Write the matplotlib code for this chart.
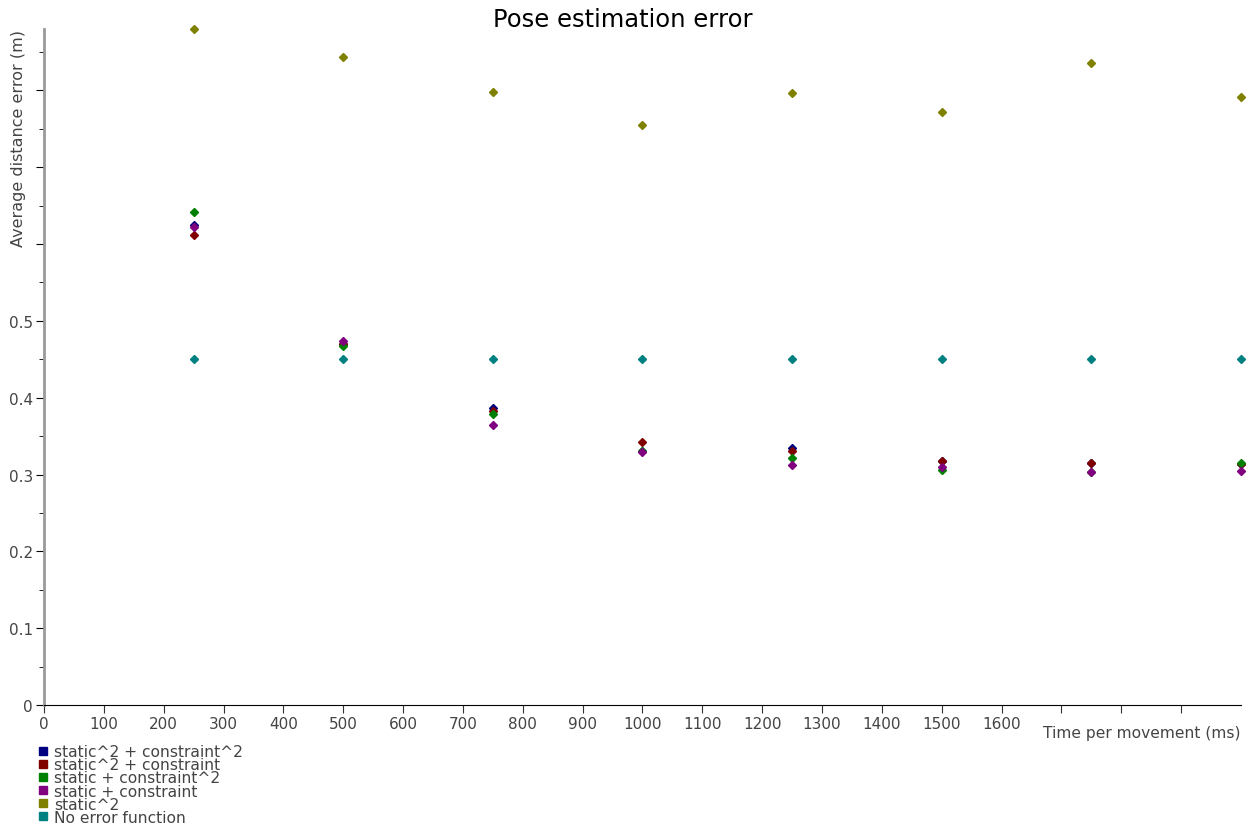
import numpy as np
import matplotlib.pyplot as plt
from matplotlib.ticker import MultipleLocator

# --------------------------------------------------
# Data
# --------------------------------------------------
times = [250, 500, 750, 1000, 1250, 1500, 1750, 2000]

sq_sq = [0.625, 0.470, 0.386, 0.331, 0.334, 0.318, 0.315, 0.314]      # static^2 + constraint^2
sq_lin = [0.612, 0.470, 0.383, 0.342, 0.330, 0.317, 0.315, 0.314]     # static^2 + constraint
lin_sq = [0.642, 0.467, 0.379, 0.331, 0.322, 0.306, 0.303, 0.315]     # static + constraint^2
lin_lin = [0.622, 0.474, 0.364, 0.329, 0.313, 0.310, 0.303, 0.304]    # static + constraint
static_sq = [0.880, 0.844, 0.798, 0.755, 0.797, 0.772, 0.836, 0.792]  # static^2
no_error = [0.450, 0.450, 0.450, 0.450, 0.450, 0.450, 0.450, 0.450]   # No error function

series_names = ["static^2 + constraint^2", "static^2 + constraint",
                "static + constraint^2", "static + constraint",
                "static^2", "No error function"]
series_values = [sq_sq, sq_lin, lin_sq, lin_lin, static_sq, no_error]
series_colors = ["#000080", "#800000", "#008000", "#800080", "#808000", "#008080"]

x_ticks = list(range(0, 2000, 100))
x_labels = [str(v) if v <= 1600 else "" for v in x_ticks]
y_ticks = [0, 0.1, 0.2, 0.3, 0.4, 0.5, 0.6, 0.7, 0.8]
y_labels = ["0", "0.1", "0.2", "0.3", "0.4", "0.5", "", "", ""]

# --------------------------------------------------
# Plot
# --------------------------------------------------
fig = plt.figure(figsize=(12.52, 8.29), dpi=100)
ax = fig.add_axes([0.0351, 0.1484, 0.9561, 0.8154])

for name, vals, col in zip(series_names, series_values, series_colors):
    ax.plot(times, vals, linestyle="none", marker="D", markersize=4.5,
            color=col, clip_on=False, label=name)

ax.set_xlim(0, 2000)
ax.set_ylim(0, 0.88)

ax.set_xticks(x_ticks)
ax.set_xticklabels(x_labels)
ax.set_yticks(y_ticks)
ax.set_yticklabels(y_labels)
ax.yaxis.set_minor_locator(MultipleLocator(0.05))

ax.tick_params(axis="both", labelsize=11, labelcolor="#444444", direction="out")
ax.tick_params(axis="y", which="major", length=6, color="black", pad=2)
ax.tick_params(axis="y", which="minor", length=3.5, color="black")
ax.tick_params(axis="x", length=6, color="#333333", pad=2)

for s in ["top", "right"]:
    ax.spines[s].set_visible(False)
ax.spines["left"].set_color("#999999")
ax.spines["left"].set_linewidth(2)
ax.spines["bottom"].set_color("black")

fig.text(0.4976, 0.976, "Pose estimation error", ha="center", va="center",
         fontsize=17.5, color="black")
ax.text(1.0, -0.04, "Time per movement (ms)", transform=ax.transAxes,
        ha="right", va="center", fontsize=11.2, color="#444444")
fig.text(0.0145, 0.964, "Average distance error (m)", rotation=90,
         ha="center", va="top", fontsize=11.5, color="#444444")

leg = fig.legend(loc="upper left", bbox_to_anchor=(0.026, 0.1105),
                 frameon=False, fontsize=11.2, labelspacing=-0.12,
                 handlelength=0.4, handletextpad=0.5, borderpad=0,
                 markerscale=1.3)
for h in leg.legend_handles:
    h.set_marker("s")
for t in leg.get_texts():
    t.set_color("#444444")

plt.savefig("out.png", dpi=100)
